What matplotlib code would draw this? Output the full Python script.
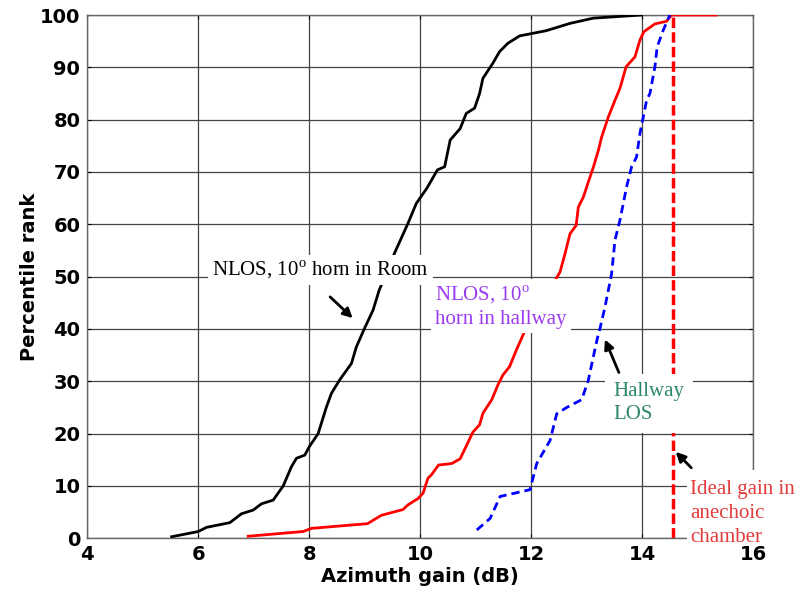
import matplotlib
matplotlib.use("Agg")
import matplotlib.pyplot as plt
from matplotlib.patches import Rectangle

plt.rcParams['mathtext.fontset'] = 'custom'
plt.rcParams['mathtext.rm'] = 'Liberation Serif'

room_x = [5.52, 6.0, 6.15, 6.57, 6.78, 6.99, 7.14, 7.35, 7.53, 7.68, 7.77, 7.92, 8.0, 8.16,
          8.31, 8.40, 8.55, 8.76, 8.85, 9.0, 9.15, 9.26, 9.40, 9.55, 9.78, 9.93, 10.12, 10.31,
          10.44, 10.54, 10.72, 10.83, 10.98, 11.07, 11.13, 11.31, 11.43, 11.58, 11.79, 12.27,
          12.70, 13.12, 13.99]
room_y = [0.3, 1.3, 2.1, 3.0, 4.7, 5.4, 6.6, 7.3, 10.0, 13.7, 15.3, 15.9, 17.5, 20.0,
          25.1, 27.7, 30.3, 33.4, 36.6, 40.2, 43.6, 47.4, 51.0, 54.8, 60.2, 64.0, 66.9, 70.4,
          71.0, 76.1, 78.3, 81.2, 82.2, 85.0, 87.9, 90.8, 93.0, 94.6, 96.0, 97.0,
          98.4, 99.4, 100]

hall_nlos_x = [6.90, 7.89, 8.04, 8.37, 9.05, 9.30, 9.69, 9.78, 9.96, 10.05, 10.14, 10.20, 10.33,
               10.57, 10.72, 10.81, 10.95, 11.07, 11.13, 11.29, 11.40, 11.49, 11.61, 11.73, 11.88,
               12.2, 12.52, 12.61, 12.70, 12.81, 12.85, 12.94, 13.03, 13.12, 13.21, 13.27, 13.39,
               13.51, 13.60, 13.71, 13.87, 13.96, 14.03, 14.23, 14.44, 14.53, 15.33]
hall_nlos_y = [0.4, 1.3, 1.9, 2.2, 2.8, 4.4, 5.5, 6.4, 7.6, 8.6, 11.5, 12.1, 14.0,
               14.3, 15.2, 17.2, 20.3, 21.7, 23.9, 26.5, 29.3, 31.2, 32.8, 35.9, 39.5,
               45.0, 50.9, 54.4, 58.2, 59.8, 63.3, 65.2, 68.1, 70.9, 74.1, 76.7, 80.5,
               83.7, 86.0, 90.1, 92.0, 95.2, 96.8, 98.3, 98.8, 100, 100]

hall_los_x = [11.02, 11.26, 11.44, 11.98, 12.10, 12.22, 12.34, 12.46, 12.64, 12.91, 13.03, 13.12,
              13.19, 13.24, 13.33, 13.45, 13.51, 13.60, 13.72, 13.81, 13.90, 13.96, 14.02, 14.08,
              14.14, 14.23, 14.27, 14.38, 14.50]
hall_los_y = [1.6, 3.8, 8.0, 9.3, 14.3, 16.5, 18.7, 23.8, 25.0, 26.5, 30.2, 34.7,
              38.1, 40.1, 44.2, 50.6, 57.0, 60.8, 67.2, 71.0, 72.9, 77.4, 80.5, 83.7,
              85.0, 90.1, 93.9, 97.1, 100]

ideal_gain = 14.56

x_ticks = [4, 6, 8, 10, 12, 14, 16]
y_ticks = [0, 10, 20, 30, 40, 50, 60, 70, 80, 90, 100]

fig = plt.figure(figsize=(8.12, 5.93), dpi=100)
ax = fig.add_axes([0.1075, 0.0922, 0.820, 0.8825])

ax.plot(room_x, room_y, color='black', lw=2.0, zorder=3)
ax.plot(hall_nlos_x, hall_nlos_y, color='red', lw=2.0, zorder=3)
ax.plot(hall_los_x, hall_los_y, color='blue', lw=2.0, ls=(0, (3, 1.8)), zorder=3)
ax.plot([ideal_gain, ideal_gain], [0, 100], color='red', lw=2.5, ls=(0, (3, 1.2)), zorder=3)

ax.set_xlim(4, 16)
ax.set_ylim(0, 100)
ax.set_xticks(x_ticks)
ax.set_yticks(y_ticks)
ax.grid(True, color='#444444', lw=0.9)
ax.set_axisbelow(True)
ax.tick_params(direction='in', length=3, top=True, right=True, labelsize=14, pad=5)
for lab in ax.get_xticklabels() + ax.get_yticklabels():
    lab.set_fontweight('bold')
for s in ax.spines.values():
    s.set_color('#666666')
    s.set_linewidth(1.0)

ax.set_xlabel('Azimuth gain (dB)', fontsize=14, fontweight='bold', labelpad=2)
ax.set_ylabel('Percentile rank', fontsize=14, fontweight='bold', labelpad=1)

serif = 'Liberation Serif'
box = dict(facecolor='white', edgecolor='none', pad=3)

ax.text(6.25, 51.3, 'NLOS, 10$^{\\mathrm{o}}$ horn in Room', family=serif, fontsize=15,
        color='black', ha='left', va='center', bbox=box, zorder=5)
ax.annotate('', xy=(8.82, 41.7), xytext=(8.34, 46.5),
            arrowprops=dict(arrowstyle='-|>', color='black', lw=2, mutation_scale=14), zorder=5)

ax.text(10.27, 44.4, 'NLOS, 10$^{\\mathrm{o}}$\nhorn in hallway', family=serif, fontsize=15,
        color='#9a3cf0', ha='left', va='center', linespacing=1.3, bbox=box, zorder=5)

ax.text(13.48, 25.8, 'Hallway\nLOS', family=serif, fontsize=15, color='#2d876e',
        ha='left', va='center', linespacing=1.3,
        bbox=dict(facecolor='white', edgecolor='none', pad=6), zorder=5)
ax.annotate('', xy=(13.31, 38.5), xytext=(13.60, 31.2),
            arrowprops=dict(arrowstyle='-|>', color='black', lw=2, mutation_scale=14), zorder=5)

# white patch behind the chamber note, kept above the "16" tick label
ax.add_patch(Rectangle((14.8, -1.4), 1.5, 14.4, facecolor='white', edgecolor='none',
                       clip_on=False, zorder=4))
ax.text(14.86, 4.8, 'Ideal gain in\nanechoic\nchamber', family=serif, fontsize=15,
        color='#e33c3c', ha='left', va='center', linespacing=1.35, zorder=5, clip_on=False)
ax.annotate('', xy=(14.57, 16.9), xytext=(14.92, 13.1),
            arrowprops=dict(arrowstyle='-|>', color='black', lw=2, mutation_scale=14), zorder=5)

fig.savefig('out.png', dpi=100)
